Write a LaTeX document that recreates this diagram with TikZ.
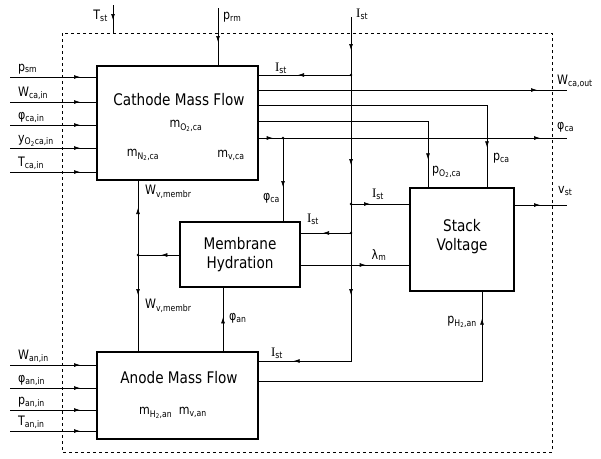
\documentclass[tikz,border=0pt]{standalone}
\usepackage{fontspec}
\setmainfont{DejaVu Sans}[FakeStretch=0.85]
\newfontfamily\ifont{Liberation Serif}
\usetikzlibrary{arrows.meta,decorations.markings}

\newcommand{\Ist}{{\ifont I}\textsubscript{st}}

\tikzset{
  blk/.style={draw, line width=1.3pt, inner sep=0pt},
  sig/.style={draw, line width=0.7pt},
  arr/.style={postaction={decorate, decoration={markings,
      mark=at position #1 with {\arrow{Latex[length=6pt,width=4pt]}}}}},
  lbl/.style={font=\fontsize{13}{15}\selectfont, inner sep=1pt},
  ttl/.style={font=\fontsize{16}{19}\selectfont, align=center, inner sep=0pt},
}

\begin{document}
\begin{tikzpicture}[x=1pt, y=-1pt]
    \useasboundingbox (0,0) rectangle (601,458);
    % system border
    \draw[dashed, line width=0.6pt] (62,33) rectangle (552,452);

    % blocks
    \node[blk, minimum width=161pt, minimum height=114pt] (cath) at (177.5,123) {};
    \node[blk, minimum width=120pt, minimum height=65pt] (memb) at (240,254.5) {};
    \node[blk, minimum width=104pt, minimum height=103pt] (stack) at (462,239.5) {};
    \node[blk, minimum width=161pt, minimum height=87pt] (anode) at (177.5,395.5) {};

    % block texts
    \node[ttl] (tcath) at (179,100) {Cathode Mass Flow};
    \node[lbl] (mo2) at (186,126) {m\textsubscript{O\textsubscript{2},ca}};
    \node[lbl] (mn2) at (143,155) {m\textsubscript{N\textsubscript{2},ca}};
    \node[lbl] (mvca) at (231,155) {m\textsubscript{v,ca}};
    \node[ttl] (tmemb) at (240,255) {Membrane\\Hydration};
    \node[ttl] (tstack) at (462,237) {Stack\\Voltage};
    \node[ttl] (tanode) at (179,378) {Anode Mass Flow};
    \node[lbl] (mh2) at (173,413) {m\textsubscript{H\textsubscript{2},an}\enspace m\textsubscript{v,an}};

    % inputs on the left
    \foreach \n/\yy/\txt in {psm/77/{p\textsubscript{sm}},
        wcain/102/{W\textsubscript{ca,in}},
        phicain/125/{φ\textsubscript{ca,in}},
        yo2/148/{y\textsubscript{O\textsubscript{2}ca,in}},
        tcain/172/{T\textsubscript{ca,in}}} {
      \coordinate (in-\n) at (10,\yy);
      \draw[sig, arr=70pt] (in-\n) -- (cath.west |- in-\n);
      \node[lbl, anchor=base west] (l-\n) at (17,\yy-6) {\txt};
    }
    \foreach \n/\yy/\txt in {wanin/365/{W\textsubscript{an,in}},
        phianin/388/{φ\textsubscript{an,in}},
        panin/410/{p\textsubscript{an,in}},
        tanin/431/{T\textsubscript{an,in}}} {
      \coordinate (in-\n) at (10,\yy);
      \draw[sig, arr=70pt] (in-\n) -- (anode.west |- in-\n);
      \node[lbl, anchor=base west] (l-\n) at (17,\yy-6) {\txt};
    }

    % inputs from the top
    \coordinate (tstTop) at (113,5);
    \coordinate (tstBot) at (113,33);
    \draw[sig, arr=15pt] (tstTop) -- (tstBot);
    \node[lbl, anchor=east] (ltst) at (109,16) {T\textsubscript{st}};
    \coordinate (prmTop) at (218,8);
    \draw[sig, arr=34pt] (prmTop) -- (cath.north -| prmTop);
    \node[lbl, anchor=west] (lprm) at (222,17) {p\textsubscript{rm}};

    % stack current bus
    \coordinate (istTop) at (351,17);
    \coordinate (jCath) at (351,75);
    \coordinate (jStack) at (351,204);
    \coordinate (jMemb) at (351,233);
    \coordinate (jAnode) at (351,361);
    \draw[sig, arr=33pt, arr=148pt, arr=278pt, arr=-35pt]
      (istTop) -- (jAnode) -- (anode.east |- jAnode);
    \node[lbl, anchor=west] (list) at (355,14) {\Ist};
    \draw[sig, arr=53pt] (jCath) -- (cath.east |- jCath);
    \node[lbl] (listc) at (281,68) {\Ist};
    \draw[sig, arr=28pt] (jMemb) -- (memb.east |- jMemb);
    \node[lbl] (listm) at (313,219) {\Ist};
    \draw[sig, arr=19pt] (jStack) -- (stack.west |- jStack);
    \node[lbl] (lists) at (378,194) {\Ist};
    \node[lbl] (lista) at (277,353) {\Ist};
    \foreach \j in {jCath,jStack,jMemb} \fill (\j) circle (1.3);

    % cathode outputs
    \coordinate (wOut) at (567,90);
    \draw[sig, arr=-30pt] (cath.east |- wOut) -- (wOut);
    \node[lbl, anchor=west] (lwout) at (556,81) {W\textsubscript{ca,out}};
    \coordinate (pcaTurn) at (487,105);
    \draw[sig, arr=-40pt] (cath.east |- pcaTurn) -- (pcaTurn) -- (stack.north -| pcaTurn);
    \node[lbl, anchor=west] (lpca) at (492,158) {p\textsubscript{ca}};
    \coordinate (po2Turn) at (428,121);
    \draw[sig, arr=-28pt] (cath.east |- po2Turn) -- (po2Turn) -- (stack.north -| po2Turn);
    \node[lbl, anchor=west] (lpo2) at (431,172) {p\textsubscript{O\textsubscript{2},ca}};
    \coordinate (jPhi) at (283,138);
    \coordinate (phiOut) at (567,138);
    \draw[sig, arr=14pt, arr=-27pt] (cath.east |- phiOut) -- (phiOut);
    \draw[sig, arr=49pt] (jPhi) -- (memb.north -| jPhi);
    \fill (jPhi) circle (1.3);
    \node[lbl, anchor=west] (lphi) at (556,127) {φ\textsubscript{ca}};
    \node[lbl, anchor=east] (lphim) at (281,198) {φ\textsubscript{ca}};

    % membrane water flow
    \coordinate (jW) at (138,255);
    \draw[sig, arr=18pt] (memb.west |- jW) -- (jW);
    \draw[sig, arr=47pt] (jW) -- (cath.south -| jW);
    \draw[sig, arr=40pt] (jW) -- (anode.north -| jW);
    \fill (jW) circle (1.3);
    \node[lbl, anchor=west] (lwmc) at (144,192) {W\textsubscript{v,membr}};
    \node[lbl, anchor=west] (lwma) at (144,306) {W\textsubscript{v,membr}};

    % anode humidity
    \coordinate (xPhiAn) at (223,320);
    \draw[sig, arr=34pt] (anode.north -| xPhiAn) -- (memb.south -| xPhiAn);
    \node[lbl, anchor=west] (lphian) at (228,318) {φ\textsubscript{an}};

    % membrane water content
    \coordinate (yLam) at (380,265);
    \draw[sig, arr=65pt] (memb.east |- yLam) -- (stack.west |- yLam);
    \node[lbl] (llam) at (379,255) {λ\textsubscript{m}};

    % stack voltage out
    \coordinate (vOut) at (567,205);
    \draw[sig, arr=-27pt] (stack.east |- vOut) -- (vOut);
    \node[lbl, anchor=west] (lvst) at (557,191) {v\textsubscript{st}};

    % hydrogen pressure
    \coordinate (ph2Turn) at (482,381);
    \draw[sig, arr=-27pt] (anode.east |- ph2Turn) -- (ph2Turn) -- (stack.south -| ph2Turn);
    \node[lbl, anchor=east] (lph2) at (478,322) {p\textsubscript{H\textsubscript{2},an}};
  \end{tikzpicture}
\end{document}
